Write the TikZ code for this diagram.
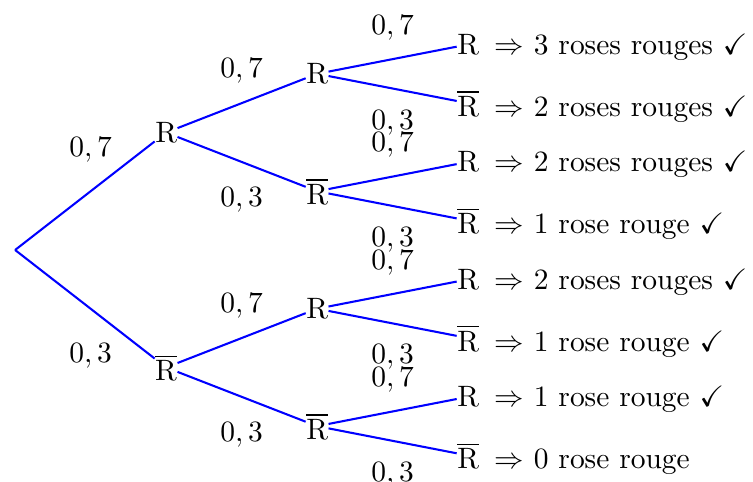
\documentclass[tikz,border=0pt]{standalone}
\usepackage{amsmath}
\usepackage{amssymb}
\usetikzlibrary{positioning,calc}
\newcommand{\Rbarre}{\ensuremath{\overline{\mathrm{R}}}}
\tikzset{
  branch/.style={draw=blue, line width=0.7pt},
  state/.style={inner sep=0pt},
  prob/.style={inner sep=0pt, anchor=base},
  outcome/.style={inner sep=0pt, anchor=base west}
}

\begin{document}
\begin{tikzpicture}
    \useasboundingbox (-0.18,-2.765) rectangle (8.796,2.98);
    \coordinate (o) at (0,0);
    % premier tirage
    \node[state] (r) at (1.8,1.4) {R};
    \node[state] (b) at (1.8,-1.4) {\Rbarre};
    % deuxieme tirage
    \node[state] (rr) at (3.6,2.1) {R};
    \node[state] (rb) at (3.6,0.7) {\Rbarre};
    \node[state] (br) at (3.6,-0.7) {R};
    \node[state] (bb) at (3.6,-2.1) {\Rbarre};
    % troisieme tirage
    \node[state] (rrr) at (5.4,2.45) {R};
    \node[state] (rrb) at (5.4,1.75) {\Rbarre};
    \node[state] (rbr) at (5.4,1.05) {R};
    \node[state] (rbb) at (5.4,0.35) {\Rbarre};
    \node[state] (brr) at (5.4,-0.35) {R};
    \node[state] (brb) at (5.4,-1.05) {\Rbarre};
    \node[state] (bbr) at (5.4,-1.75) {R};
    \node[state] (bbb) at (5.4,-2.45) {\Rbarre};

    \node[right=4.9pt of rrr.base east, outcome] (rrr-t) {$\Rightarrow$ 3 roses rouges $\checkmark$};
    \node[right=4.9pt of rrb.base east, outcome] (rrb-t) {$\Rightarrow$ 2 roses rouges $\checkmark$};
    \node[right=4.9pt of rbr.base east, outcome] (rbr-t) {$\Rightarrow$ 2 roses rouges $\checkmark$};
    \node[right=4.9pt of rbb.base east, outcome] (rbb-t) {$\Rightarrow$ 1 rose rouge $\checkmark$};
    \node[right=4.9pt of brr.base east, outcome] (brr-t) {$\Rightarrow$ 2 roses rouges $\checkmark$};
    \node[right=4.9pt of brb.base east, outcome] (brb-t) {$\Rightarrow$ 1 rose rouge $\checkmark$};
    \node[right=4.9pt of bbr.base east, outcome] (bbr-t) {$\Rightarrow$ 1 rose rouge $\checkmark$};
    \node[right=4.9pt of bbb.base east, outcome] (bbb-t) {$\Rightarrow$ 0 rose rouge};

    \draw[branch] (o) -- (r);
    \draw[branch] (o) -- (b);
    \draw[branch] (r) -- (rr);
    \draw[branch] (r) -- (rb);
    \draw[branch] (b) -- (br);
    \draw[branch] (b) -- (bb);
    \draw[branch] (rr) -- (rrr);
    \draw[branch] (rr) -- (rrb);
    \draw[branch] (rb) -- (rbr);
    \draw[branch] (rb) -- (rbb);
    \draw[branch] (br) -- (brr);
    \draw[branch] (br) -- (brb);
    \draw[branch] (bb) -- (bbr);
    \draw[branch] (bb) -- (bbb);

    % probabilites
    \node[prob] (p-r) at ($(o)!.5!(r)+(0,4.17mm)$) {$0,7$};
    \node[prob] (p-b) at ($(o)!.5!(b)+(0,-6.43mm)$) {$0,3$};
    \node[prob] (p-rr) at ($(r)!.5!(rr)+(0,3.07mm)$) {$0,7$};
    \node[prob] (p-rb) at ($(r)!.5!(rb)+(0,-5.33mm)$) {$0,3$};
    \node[prob] (p-br) at ($(b)!.5!(br)+(0,3.07mm)$) {$0,7$};
    \node[prob] (p-bb) at ($(b)!.5!(bb)+(0,-5.33mm)$) {$0,3$};
    \node[prob] (p-rrr) at ($(rr)!.5!(rrr)+(0,2.97mm)$) {$0,7$};
    \node[prob] (p-rrb) at ($(rr)!.5!(rrb)+(0,-4.83mm)$) {$0,3$};
    \node[prob] (p-rbr) at ($(rb)!.5!(rbr)+(0,2.97mm)$) {$0,7$};
    \node[prob] (p-rbb) at ($(rb)!.5!(rbb)+(0,-4.83mm)$) {$0,3$};
    \node[prob] (p-brr) at ($(br)!.5!(brr)+(0,2.97mm)$) {$0,7$};
    \node[prob] (p-brb) at ($(br)!.5!(brb)+(0,-4.83mm)$) {$0,3$};
    \node[prob] (p-bbr) at ($(bb)!.5!(bbr)+(0,2.97mm)$) {$0,7$};
    \node[prob] (p-bbb) at ($(bb)!.5!(bbb)+(0,-4.83mm)$) {$0,3$};
\end{tikzpicture}
\end{document}
